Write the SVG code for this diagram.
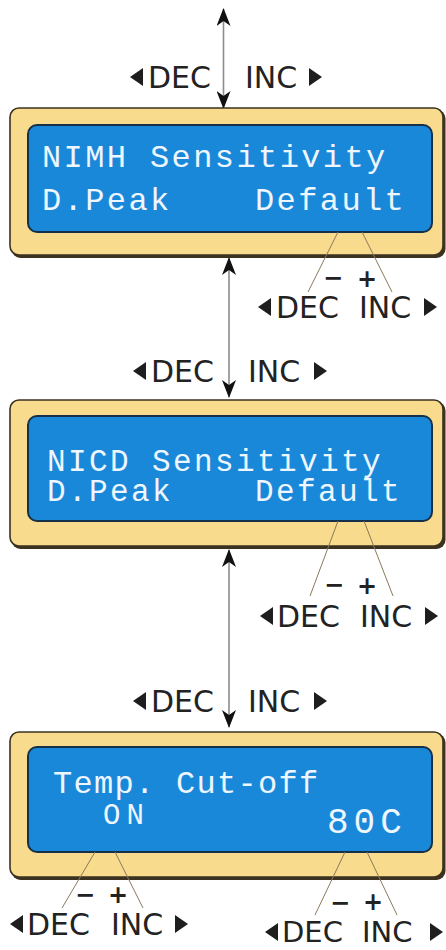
<svg xmlns="http://www.w3.org/2000/svg" width="446" height="950" viewBox="0 0 446 950">
  <style>
    .frame { fill: #f8db8c; stroke: #3b3220; stroke-width: 1.6; }
    .frame-shadow { fill: #3b3220; }
    .lcd { fill: #1a88d9; stroke: #16304a; stroke-width: 2; }
    .lcd-text { font-family: "Liberation Mono", "DejaVu Sans Mono", monospace; font-size: 32px; fill: #eef6ff; letter-spacing: 2.4px; }
    .key { font-family: "DejaVu Sans", "Liberation Sans", sans-serif; font-size: 30px; fill: #222222; }
    .sign { font-family: "DejaVu Sans", "Liberation Sans", sans-serif; font-size: 24px; font-weight: bold; fill: #222222; text-anchor: middle; }
    .tri { fill: #1e1e1e; }
    .flow { stroke: #8c8c8c; stroke-width: 1.6; fill: none; marker-start: url(#head); marker-end: url(#head); }
    .lead { stroke: #8a7a5c; stroke-width: 1; fill: none; }
  </style>
  <defs>
    <marker id="head" viewBox="0 0 18 14" refX="17" refY="7" markerWidth="18" markerHeight="14" markerUnits="userSpaceOnUse" orient="auto-start-reverse">
      <path d="M0,0 L18,7 L0,14 L5,7 Z" fill="#111111"/>
    </marker>
  </defs>

  <!-- vertical navigation arrows between screens -->
  <g id="connectors">
    <line class="flow" x1="223.5" y1="9" x2="223.5" y2="108"/>
    <line class="flow" x1="229" y1="258" x2="229" y2="397"/>
    <line class="flow" x1="229" y1="550" x2="229" y2="727"/>
  </g>

  <!-- navigation key hints beside the arrows -->
  <g id="nav-top">
    <polygon class="tri" points="130,77 143,68 143,86"/>
    <text class="key" x="148" y="88">DEC</text>
    <text class="key" x="245" y="88">INC</text>
    <polygon class="tri" points="322,77 309,68 309,86"/>
  </g>
  <g id="nav-mid1">
    <polygon class="tri" points="133,371 146,362 146,380"/>
    <text class="key" x="151" y="382">DEC</text>
    <text class="key" x="248" y="382">INC</text>
    <polygon class="tri" points="327,371 314,362 314,380"/>
  </g>
  <g id="nav-mid2">
    <polygon class="tri" points="133,701 146,692 146,710"/>
    <text class="key" x="151" y="712">DEC</text>
    <text class="key" x="248" y="712">INC</text>
    <polygon class="tri" points="327,701 314,692 314,710"/>
  </g>

  <!-- screen 1 -->
  <g id="node-nimh">
    <rect class="frame-shadow" x="11.5" y="109.5" width="434" height="148.5" rx="9"/>
    <rect class="frame" x="10" y="108" width="433" height="147" rx="9"/>
    <rect class="lcd" x="28" y="125" width="404" height="107" rx="9"/>
    <text class="lcd-text" x="42" y="167">NIMH Sensitivity</text>
    <text class="lcd-text" x="42" y="210">D.Peak</text>
    <text class="lcd-text" x="255" y="210">Default</text>
  </g>
  <g id="adjust-nimh">
    <line class="lead" x1="338" y1="232" x2="308" y2="292"/>
    <line class="lead" x1="362" y1="232" x2="392" y2="292"/>
    <text class="sign" x="333" y="286">−</text>
    <text class="sign" x="367" y="287">+</text>
    <polygon class="tri" points="258,307 271,298 271,316"/>
    <text class="key" x="276" y="318">DEC</text>
    <text class="key" x="359" y="318">INC</text>
    <polygon class="tri" points="437,307 424,298 424,316"/>
  </g>

  <!-- screen 2 -->
  <g id="node-nicd">
    <rect class="frame-shadow" x="11.5" y="401.5" width="434" height="147.5" rx="9"/>
    <rect class="frame" x="10" y="400" width="433" height="146" rx="9"/>
    <rect class="lcd" x="28" y="416" width="404" height="105" rx="9"/>
    <text class="lcd-text" x="47" y="471" style="font-size:31px">NICD Sensitivity</text>
    <text class="lcd-text" x="47" y="501" style="font-size:31px">D.Peak</text>
    <text class="lcd-text" x="255" y="501" style="font-size:31px">Default</text>
  </g>
  <g id="adjust-nicd">
    <line class="lead" x1="338" y1="521" x2="310" y2="596"/>
    <line class="lead" x1="364" y1="521" x2="393" y2="596"/>
    <text class="sign" x="334" y="593">−</text>
    <text class="sign" x="367" y="594">+</text>
    <polygon class="tri" points="260,616 273,607 273,625"/>
    <text class="key" x="277" y="627">DEC</text>
    <text class="key" x="360" y="627">INC</text>
    <polygon class="tri" points="438,616 425,607 425,625"/>
  </g>

  <!-- screen 3 -->
  <g id="node-temp">
    <rect class="frame-shadow" x="11.5" y="733.5" width="434" height="146.5" rx="9"/>
    <rect class="frame" x="10" y="732" width="433" height="145" rx="9"/>
    <rect class="lcd" x="28" y="747" width="404" height="105" rx="9"/>
    <text class="lcd-text" x="53" y="793" style="letter-spacing:1.3px">Temp. Cut-off</text>
    <text class="lcd-text" x="103" y="824" style="font-size:29px;letter-spacing:6px">ON</text>
    <text class="lcd-text" x="327" y="833" style="font-size:36px;letter-spacing:5px">80C</text>
  </g>
  <g id="adjust-temp-state">
    <line class="lead" x1="95" y1="852" x2="62" y2="908"/>
    <line class="lead" x1="115" y1="852" x2="143" y2="908"/>
    <text class="sign" x="85" y="903">−</text>
    <text class="sign" x="118" y="903">+</text>
    <polygon class="tri" points="10,924 23,915 23,933"/>
    <text class="key" x="27" y="935">DEC</text>
    <text class="key" x="111" y="935">INC</text>
    <polygon class="tri" points="188,924 175,915 175,933"/>
  </g>
  <g id="adjust-temp-value">
    <line class="lead" x1="345" y1="852" x2="315" y2="915"/>
    <line class="lead" x1="367" y1="852" x2="397" y2="915"/>
    <text class="sign" x="340" y="911">−</text>
    <text class="sign" x="373" y="910">+</text>
    <polygon class="tri" points="265,932 278,923 278,941"/>
    <text class="key" x="282" y="942" style="font-size:29px">DEC</text>
    <text class="key" x="362" y="942" style="font-size:29px">INC</text>
    <polygon class="tri" points="443,932 430,923 430,941"/>
  </g>
</svg>
